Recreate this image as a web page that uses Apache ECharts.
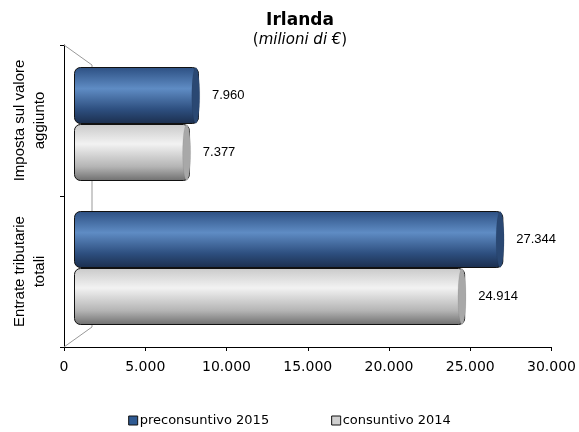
<!DOCTYPE html>
<html>
<head>
<meta charset="utf-8">
<script src="https://cdn.jsdelivr.net/npm/echarts@6/dist/echarts.min.js"></script>
<style>html,body{margin:0;padding:0;background:#fff}#c{width:579px;height:432px}</style>
</head>
<body>
<div id="c"></div>
<script>
const categories = ['Imposta sul valore aggiunto', 'Entrate tributarie totali'];
const categoryLabels = ['Imposta sul valore\naggiunto', 'Entrate tributarie\ntotali'];
const seriesNames = ['preconsuntivo 2015', 'consuntivo 2014'];
const preconsuntivo2015 = [7960, 27344];
const consuntivo2014 = [7377, 24914];
const xTicks = [0, 5000, 10000, 15000, 20000, 25000, 30000];

function fmt(v) {
  return String(v).replace(/\B(?=(\d{3})+(?!\d))/g, '.');
}

const blueGrad = new echarts.graphic.LinearGradient(0, 0, 0, 1, [
  {offset: 0, color: '#2c4f82'},
  {offset: 0.38, color: '#5f8cc4'},
  {offset: 0.75, color: '#2d4e7e'},
  {offset: 1, color: '#1b2e4d'}
]);
const grayGrad = new echarts.graphic.LinearGradient(0, 0, 0, 1, [
  {offset: 0, color: '#c9c9c9'},
  {offset: 0.35, color: '#f2f2f2'},
  {offset: 0.75, color: '#b4b4b4'},
  {offset: 1, color: '#6e6e6e'}
]);

const chart = echarts.init(document.getElementById('c'), null, {renderer: 'canvas'});
const barW = 57;

function barSeries(name, data, grad) {
  return {
    name: name, type: 'bar', xAxisIndex: 1, yAxisIndex: 1,
    data: data, barWidth: barW, barGap: '0%',
    itemStyle: {color: grad, borderColor: '#111', borderWidth: 1, borderRadius: [6, 6, 6, 6]},
    label: {show: true, position: 'right', distance: 13, formatter: p => fmt(p.value),
      fontFamily: 'Liberation Sans', fontSize: 13, color: '#000'},
    z: 3
  };
}
function capSeries(name, data, col) {
  return {
    name: name, type: 'pictorialBar', xAxisIndex: 1, yAxisIndex: 1,
    data: data, barWidth: barW, barGap: '0%',
    symbol: 'circle', symbolSize: [8, barW - 1], symbolPosition: 'end',
    symbolOffset: [1, 0],
    itemStyle: {color: col, borderColor: '#111', borderWidth: 1},
    silent: true, z: 4, legendHoverLink: false
  };
}

chart.setOption({
  animation: false,
  title: {
    text: 'Irlanda',
    subtext: '({i|milioni di €})',
    left: 295, textAlign: 'center', top: 7, itemGap: 4,
    textStyle: {fontFamily: 'DejaVu Sans', fontWeight: 'bold', fontSize: 17, color: '#000'},
    subtextStyle: {fontFamily: 'DejaVu Sans', fontSize: 15, color: '#000',
      rich: {i: {fontFamily: 'DejaVu Sans', fontStyle: 'italic', fontSize: 15, color: '#000'}}}
  },
  legend: {
    bottom: 0, left: 'center', itemWidth: 9, itemHeight: 9, itemGap: 62, icon: 'rect',
    textStyle: {fontFamily: 'DejaVu Sans', fontSize: 13, color: '#000', padding: [0, 0, 0, -3]},
    data: [
      {name: seriesNames[0], itemStyle: {color: '#2f5a92', borderColor: '#111', borderWidth: 1}},
      {name: seriesNames[1], itemStyle: {color: '#d0d0d0', borderColor: '#111', borderWidth: 1}}
    ]
  },
  grid: [
    {left: 64, right: 20, top: 45, bottom: 85},
    {left: 74, right: 34, top: 52, bottom: 92}
  ],
  xAxis: [
    {gridIndex: 0, type: 'value', min: xTicks[0], max: xTicks[xTicks.length - 1], interval: 5000,
      splitLine: {show: false},
      axisLine: {show: true, lineStyle: {color: '#000', width: 1}},
      axisTick: {show: true, length: 4, lineStyle: {color: '#000'}},
      axisLabel: {formatter: v => fmt(v), fontFamily: 'DejaVu Sans', fontSize: 14, color: '#000', margin: 13}},
    {gridIndex: 1, type: 'value', min: 0, max: 30000, show: false, splitLine: {show: false}}
  ],
  yAxis: [
    {gridIndex: 0, type: 'category', inverse: true, data: categories,
      axisLine: {show: true, lineStyle: {color: '#000'}},
      axisTick: {show: true, length: 4, lineStyle: {color: '#000'}},
      axisLabel: {interval: 0, rotate: 90, margin: 14, fontFamily: 'Liberation Sans', fontSize: 15, color: '#000',
        lineHeight: 20, align: 'center',
        formatter: (v, i) => categoryLabels[i]}},
    {gridIndex: 1, type: 'category', inverse: true, data: categories, show: false}
  ],
  graphic: [
    {type: 'polyline', shape: {points: [[64, 45], [92, 65], [92, 327], [64, 347]]},
      style: {stroke: '#999', lineWidth: 1, fill: null}, z: 1}
  ],
  series: [
    barSeries(seriesNames[0], preconsuntivo2015, blueGrad),
    barSeries(seriesNames[1], consuntivo2014, grayGrad),
    capSeries(seriesNames[0], preconsuntivo2015, '#2a4873'),
    capSeries(seriesNames[1], consuntivo2014, '#a8a8a8')
  ]
});
</script>
</body>
</html>
